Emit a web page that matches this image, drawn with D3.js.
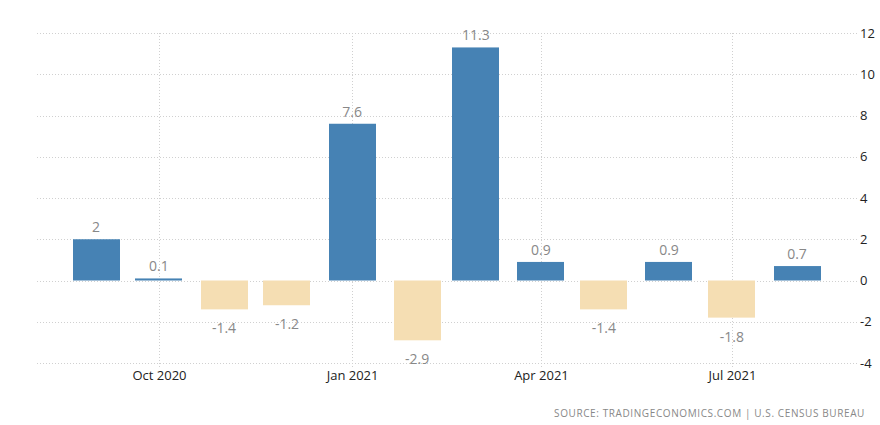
<!DOCTYPE html>
<html><head><meta charset="utf-8">
<script src="https://cdn.jsdelivr.net/npm/d3@7"></script>
<style>body{margin:0;background:#fff;}svg{display:block;font-family:"Open Sans","Noto Sans",sans-serif;}</style>
</head><body>
<svg id="c" width="880" height="425"></svg>
<script>
const months = ["2020-09","2020-10","2020-11","2020-12","2021-01","2021-02","2021-03","2021-04","2021-05","2021-06","2021-07","2021-08"];
const values = [2, 0.1, -1.4, -1.2, 7.6, -2.9, 11.3, 0.9, -1.4, 0.9, -1.8, 0.7];
const yTicks = [-4, -2, 0, 2, 4, 6, 8, 10, 12];
const xTickDates = ["2020-10","2021-01","2021-04","2021-07"];
const sourceText = "SOURCE: TRADINGECONOMICS.COM  |  U.S. CENSUS BUREAU";

(function () {
const parse = d3.timeParse("%Y-%m");
const svg = d3.select("#c");
const pLeft = 37, pRight = 858, pTop = 33, pBottom = 363;
const fmt = v => String(v);

const x = d3.scaleTime().domain([parse("2020-09"), parse("2021-08")]).range([96, 797]);
const y = d3.scaleLinear().domain([-4, 12]).range([pBottom, pTop]);
const bw = 47;

// horizontal grid
svg.append("g").selectAll("line").data(yTicks).join("line")
  .attr("x1", pLeft).attr("x2", pRight)
  .attr("y1", d => Math.round(y(d)) + 0.5).attr("y2", d => Math.round(y(d)) + 0.5)
  .attr("stroke", "#d0d0d0").attr("stroke-dasharray", "1,2");
// vertical grid
svg.append("g").selectAll("line").data(xTickDates).join("line")
  .attr("x1", d => Math.round(x(parse(d))) + 0.5).attr("x2", d => Math.round(x(parse(d))) + 0.5)
  .attr("y1", pTop).attr("y2", pBottom + 4)
  .attr("stroke", "#d0d0d0").attr("stroke-dasharray", "1,2");

// y axis labels
const yAxis = d3.axisRight(y).tickValues(yTicks).tickSize(0).tickPadding(0).tickFormat(fmt);
const gy = svg.append("g").attr("transform", "translate(860,0)").call(yAxis);
gy.select(".domain").remove();
gy.selectAll("text").attr("fill", "#222").style("font-size", "13px").style("font-family", "\"Open Sans\",sans-serif");

// x axis labels
const xAxis = d3.axisBottom(x).tickValues(xTickDates.map(parse)).tickSize(0).tickPadding(0).tickFormat(d3.timeFormat("%b %Y"));
const gx = svg.append("g").attr("transform", "translate(0,371)").call(xAxis);
gx.select(".domain").remove();
gx.selectAll("text").attr("fill", "#222").style("font-size", "13px").style("font-family", "\"Open Sans\",sans-serif");

const data = months.map((m, i) => ({date: parse(m), v: values[i]}));

svg.append("g").selectAll("rect").data(data).join("rect")
  .attr("x", d => Math.round(x(d.date) - bw / 2))
  .attr("width", bw)
  .attr("y", d => y(Math.max(0, d.v)))
  .attr("height", d => Math.abs(y(d.v) - y(0)))
  .attr("fill", d => d.v >= 0 ? "#4682b4" : "#f5deb3");

svg.append("g").selectAll("text").data(data).join("text")
  .attr("x", d => x(d.date))
  .attr("y", d => d.v >= 0 ? y(d.v) - 7 : y(d.v) + 24)
  .attr("text-anchor", "middle")
  .attr("fill", "#888")
  .style("font-size", "14px")
  .text(d => fmt(d.v));

svg.append("text").attr("x", 865).attr("y", 417).attr("text-anchor", "end")
  .attr("fill", "#888").style("font-size", "10px").style("letter-spacing", "0.6px")
  .text(sourceText);
})();
</script>
</body></html>
